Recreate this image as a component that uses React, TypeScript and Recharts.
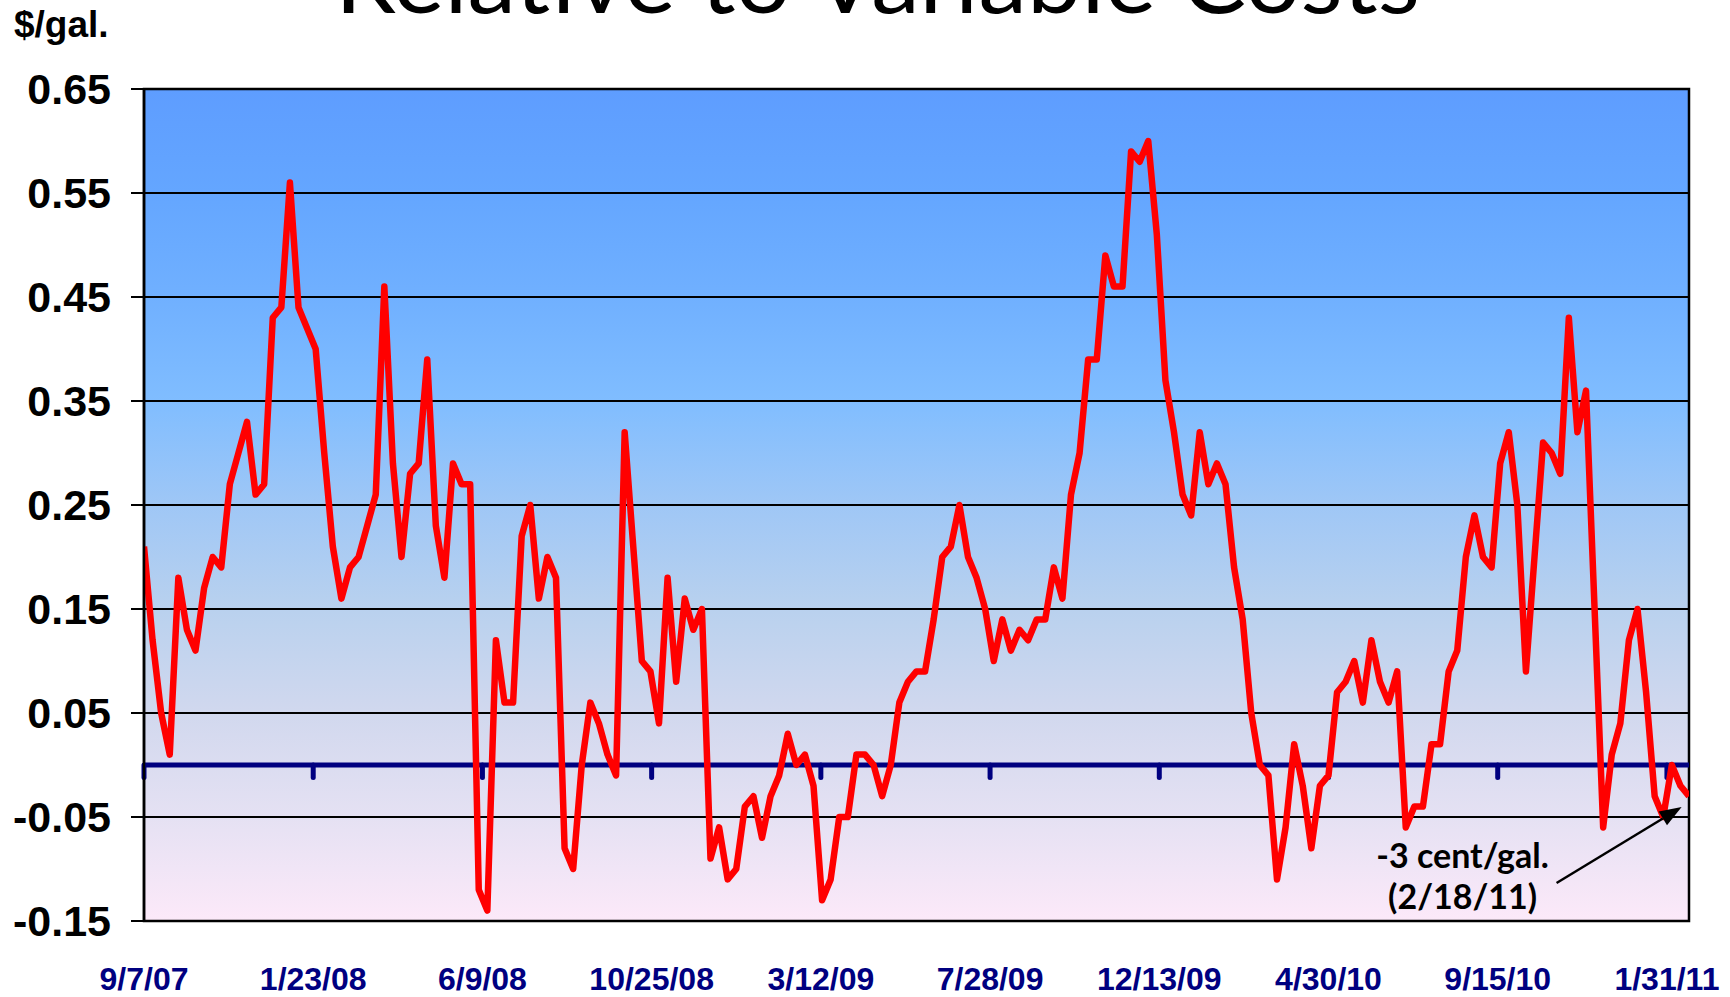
import React from "react";
import {
  LineChart,
  Line,
  XAxis,
  YAxis,
  CartesianGrid,
  ReferenceLine,
  ReferenceArea,
} from "recharts";

// weekly spread ($/gal.), Fridays starting 9/7/07
const SPREAD_2007 = [
  0.21, 0.12, 0.05, 0.01, 0.18, 0.13, 0.11, 0.17, 0.2, 0.19, 0.27, 0.3, 0.33,
  0.26, 0.27, 0.43, 0.44,
];
const SPREAD_2008 = [
  0.56, 0.44, 0.42, 0.4, 0.3, 0.21, 0.16, 0.19, 0.2, 0.23, 0.26, 0.46, 0.29,
  0.2, 0.28, 0.29, 0.39, 0.23, 0.18, 0.29, 0.27, 0.27, -0.12, -0.14, 0.12,
  0.06, 0.06, 0.22, 0.25, 0.16, 0.2, 0.18, -0.08, -0.1, 0.0, 0.06, 0.04, 0.01,
  -0.01, 0.32, 0.21, 0.1, 0.09, 0.04, 0.18, 0.08, 0.16, 0.13, 0.15, -0.09,
  -0.06, -0.11,
];
const SPREAD_2009 = [
  -0.1, -0.04, -0.03, -0.07, -0.03, -0.01, 0.03, 0.0, 0.01, -0.02, -0.13,
  -0.11, -0.05, -0.05, 0.01, 0.01, 0.0, -0.03, 0.0, 0.06, 0.08, 0.09, 0.09,
  0.14, 0.2, 0.21, 0.25, 0.2, 0.18, 0.15, 0.1, 0.14, 0.11, 0.13, 0.12, 0.14,
  0.14, 0.19, 0.16, 0.26, 0.3, 0.39, 0.39, 0.49, 0.46, 0.46, 0.59, 0.58, 0.6,
  0.51, 0.37, 0.32,
];
const SPREAD_2010 = [
  0.26, 0.24, 0.32, 0.27, 0.29, 0.27, 0.19, 0.14, 0.05, 0.0, -0.01, -0.11,
  -0.06, 0.02, -0.02, -0.08, -0.02, -0.01, 0.07, 0.08, 0.1, 0.06, 0.12, 0.08,
  0.06, 0.09, -0.06, -0.04, -0.04, 0.02, 0.02, 0.09, 0.11, 0.2, 0.24, 0.2,
  0.19, 0.29, 0.32, 0.25, 0.09, 0.2, 0.31, 0.3, 0.28, 0.43, 0.32, 0.36, 0.15,
  -0.06, 0.01, 0.04, 0.12,
];
const SPREAD_2011 = [0.15, 0.07, -0.03, -0.05, 0.0, -0.02, -0.03];

const TICK_DAYS = [0, 138, 276, 414, 552, 690, 828, 966, 1104, 1242];
const TICK_LABELS = [
  "9/7/07",
  "1/23/08",
  "6/9/08",
  "10/25/08",
  "3/12/09",
  "7/28/09",
  "12/13/09",
  "4/30/10",
  "9/15/10",
  "1/31/11",
];
const Y_TICKS = [-0.15, -0.05, 0.05, 0.15, 0.25, 0.35, 0.45, 0.55, 0.65];

const values = [
  ...SPREAD_2007,
  ...SPREAD_2008,
  ...SPREAD_2009,
  ...SPREAD_2010,
  ...SPREAD_2011,
];
const data = values.map((v, i) => ({ day: i * 7, v }));
const lastDay = (values.length - 1) * 7;

const FONT = "'Liberation Sans', Arial, Helvetica, sans-serif";
const NOTE_FONT = "Lato, 'Open Sans', sans-serif";

const XTick = (props: any) => {
  const { x, y, payload } = props;
  const idx = TICK_DAYS.indexOf(payload.value);
  return (
    <text
      x={x}
      y={y + 69}
      textAnchor="middle"
      fill="#000080"
      fontSize={32}
      fontWeight="bold"
      fontFamily={FONT}
    >
      {TICK_LABELS[idx]}
    </text>
  );
};

const ArrowNote = (props: any) => {
  const { x1, y1, x2, y2 } = props;
  const ang = Math.atan2(y2 - y1, x2 - x1);
  const len = 22;
  const w = 8;
  const bx = x2 - len * Math.cos(ang);
  const by = y2 - len * Math.sin(ang);
  const px = -Math.sin(ang) * w;
  const py = Math.cos(ang) * w;
  return (
    <g>
      <line x1={x1} y1={y1} x2={bx} y2={by} stroke="#000" strokeWidth={2.5} />
      <polygon
        points={`${x2},${y2} ${bx + px},${by + py} ${bx - px},${by - py}`}
        fill="#000"
      />
      <text
        x={x1 - 94}
        y={y1 - 15}
        textAnchor="middle"
        fontFamily={NOTE_FONT}
        fontWeight="bold"
        fontSize={34}
        fill="#000"
      >
        -3 cent/gal.
      </text>
      <text
        x={x1 - 94}
        y={y1 + 26}
        textAnchor="middle"
        fontFamily={NOTE_FONT}
        fontWeight="bold"
        fontSize={34}
        fill="#000"
      >
        (2/18/11)
      </text>
    </g>
  );
};

export default function App() {
  return (
    <div
      style={{
        position: "absolute",
        left: 0,
        top: 0,
        width: 1730,
        height: 997,
        overflow: "hidden",
        background: "#fff",
      }}
    >
      <LineChart
        width={1730}
        height={997}
        data={data}
        margin={{ top: 89, right: 41, bottom: 0, left: 0 }}
      >
        <defs>
          <linearGradient id="plotBg" x1="0" y1="0" x2="0" y2="1">
            <stop offset="0%" stopColor="#5e9dff" />
            <stop offset="12.5%" stopColor="#64a6ff" />
            <stop offset="25%" stopColor="#70b0ff" />
            <stop offset="37.5%" stopColor="#80bdff" />
            <stop offset="50%" stopColor="#9fc7f6" />
            <stop offset="62.5%" stopColor="#b9d1ee" />
            <stop offset="75%" stopColor="#d1d8ee" />
            <stop offset="87.5%" stopColor="#e5e1f3" />
            <stop offset="100%" stopColor="#fce9f9" />
          </linearGradient>
        </defs>
        <CartesianGrid
          vertical={false}
          stroke="#000"
          strokeWidth={2}
          fill="url(#plotBg)"
          fillOpacity={1}
        />
        <XAxis
          dataKey="day"
          type="number"
          domain={[0, lastDay]}
          ticks={TICK_DAYS}
          interval={0}
          allowDataOverflow
          axisLine={false}
          tickLine={false}
          tickSize={0}
          tickMargin={0}
          height={76}
          tick={<XTick />}
        />
        <YAxis
          type="number"
          domain={[-0.15, 0.65]}
          ticks={Y_TICKS}
          interval={0}
          allowDataOverflow
          width={144}
          tickSize={13}
          tickMargin={20}
          tickFormatter={(v: number) => v.toFixed(2)}
          axisLine={{ stroke: "#000", strokeWidth: 2.5 }}
          tickLine={{ stroke: "#000", strokeWidth: 2 }}
          tick={{ fill: "#000", fontSize: 43, fontWeight: "bold", fontFamily: FONT }}
        />
        <ReferenceArea
          x1={0}
          x2={lastDay}
          y1={-0.15}
          y2={0.65}
          fill="none"
          stroke="#000"
          strokeWidth={2.5}
        />
        <ReferenceLine y={0} stroke="#000080" strokeWidth={5} />
        {TICK_DAYS.map((d) => (
          <ReferenceLine
            key={d}
            segment={[
              { x: d, y: 0 },
              { x: d, y: -0.012 },
            ]}
            stroke="#000080"
            strokeWidth={5}
            strokeLinecap="round"
          />
        ))}
        <Line
          type="linear"
          dataKey="v"
          stroke="#ff0000"
          strokeWidth={6.5}
          strokeLinejoin="round"
          dot={false}
          activeDot={false}
          isAnimationActive={false}
        />
        <ReferenceLine
          segment={[
            { x: 1152, y: -0.1135 },
            { x: 1254, y: -0.0404 },
          ]}
          shape={<ArrowNote />}
        />
      </LineChart>
      <svg
        width={1730}
        height={997}
        style={{ position: "absolute", left: 0, top: 0, pointerEvents: "none" }}
      >
        <text
          x={335}
          y={12.5}
          fontFamily={NOTE_FONT}
          fontSize={94}
          fill="#000"
          textLength={1085}
          lengthAdjust="spacingAndGlyphs"
        >
          Relative to Variable Costs
        </text>
        <text
          x={14}
          y={37}
          fontFamily={FONT}
          fontWeight="bold"
          fontSize={37}
          fill="#000"
        >
          $/gal.
        </text>
      </svg>
    </div>
  );
}
